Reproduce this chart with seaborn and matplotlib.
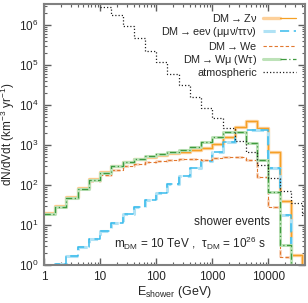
import numpy as np
import matplotlib
matplotlib.use("Agg")
import matplotlib.pyplot as plt
import seaborn as sns
from matplotlib.legend_handler import HandlerTuple
from matplotlib.ticker import NullFormatter

sns.set_style("ticks")
plt.rcParams["font.family"] = ["Liberation Sans", "DejaVu Sans"]
plt.rcParams["mathtext.fontset"] = "custom"
plt.rcParams["mathtext.rm"] = "Liberation Sans"
plt.rcParams["mathtext.it"] = "Liberation Sans:italic"
plt.rcParams["mathtext.bf"] = "Liberation Sans:bold"

# bin grid: 5 bins per decade, E_shower in GeV
edges = np.logspace(0, 4.8, 25)

# dN/dVdt (km^-3 yr^-1) per bin, bins starting at 1 GeV
znu = [20, 30, 50, 85, 140, 210, 300, 370, 440, 500, 560, 620, 680, 740,
       830, 1040, 1620, 2770, 4000, 2650, 650, 40, 1.8, 0.01]
eenu = [0.7, 1.08, 1.7, 2.8, 4.5, 7.2, 11.2, 19, 29, 43, 62, 105, 172, 260,
        400, 660, 1150, 2150, 2400, 2300, 260, 18, 0.3, 0.01]
we = [19, 28, 47, 78, 125, 180, 240, 300, 340, 370, 390, 420, 450, 440,
      420, 460, 490, 510, 420, 160, 28, 1.6, 0.3, 0.01]
wmu = [19, 28, 48, 80, 135, 200, 290, 370, 450, 520, 600, 660, 750, 910,
       1200, 1600, 2100, 2150, 1100, 420, 65, 3.2, 0.3, 0.01]
# atmospheric background, bins starting at 10 GeV
atm = [2.75e6, 1.78e6, 9.1e5, 4.7e5, 2.2e5, 1.2e5, 6e4, 3.2e4, 1.6e4, 8.4e3,
       4.7e3, 2.6e3, 1.26e3, 650, 320, 150, 72, 35, 18]
atm_start = 5

arrow = r"$\rightarrow$"
labels = ["DM" + arrow + "Z\u03bd",
          "DM" + arrow + "ee\u03bd (\u03bc\u03bc\u03bd/\u03c4\u03c4\u03bd)",
          "DM" + arrow + "We",
          "DM" + arrow + "W\u03bc (W\u03c4)",
          "atmospheric"]


def steps(vals, start=0):
    x = edges[start:start + len(vals) + 1]
    y = list(vals) + [vals[-1]]
    return x, y


fig = plt.figure(figsize=(3.08, 3.03), dpi=100)
ax = fig.add_axes([0.143, 0.125, 0.847, 0.862])

handles = []

x, y = steps(znu)
sns.lineplot(x=x, y=y, ax=ax, drawstyle="steps-post", color="#fdd09a", lw=2.4, sort=False)
sns.lineplot(x=x, y=y, ax=ax, drawstyle="steps-post", color="#f5a025", lw=0.9, sort=False)
handles.append((ax.lines[-2], ax.lines[-1]))

x, y = steps(eenu)
sns.lineplot(x=x, y=y, ax=ax, drawstyle="steps-post", color="#b0e2f5", lw=2.2, sort=False,
             dashes=False, linestyle=(0, (4, 2)))
sns.lineplot(x=x, y=y, ax=ax, drawstyle="steps-post", color="#38bbec", lw=1.1, sort=False,
             dashes=False, linestyle=(0, (6, 3)))
handles.append((ax.lines[-2], ax.lines[-1]))

x, y = steps(we)
sns.lineplot(x=x, y=y, ax=ax, drawstyle="steps-post", color="#f7cfb2", lw=1.8, sort=False,
             dashes=False, linestyle=(0, (3, 2)))
sns.lineplot(x=x, y=y, ax=ax, drawstyle="steps-post", color="#e2782f", lw=0.8, sort=False,
             dashes=False, linestyle=(0, (3, 2)))
handles.append((ax.lines[-1],))

x, y = steps(wmu)
sns.lineplot(x=x, y=y, ax=ax, drawstyle="steps-post", color="#bde2b8", lw=2.2, sort=False)
sns.lineplot(x=x, y=y, ax=ax, drawstyle="steps-post", color="#3f9a3f", lw=0.9, sort=False,
             dashes=False, linestyle=(0, (5, 2, 1, 2)))
handles.append((ax.lines[-2], ax.lines[-1]))

x, y = steps(atm, atm_start)
sns.lineplot(x=x, y=y, ax=ax, drawstyle="steps-post", color="#222222", lw=0.9, sort=False,
             dashes=False, linestyle=(0, (1, 1.6)))
handles.append((ax.lines[-1],))

ax.set_xscale("log")
ax.set_yscale("log")
ax.set_xlim(1, 4.5e4)
ax.set_ylim(1, 3.3e6)
ax.set_xticks([1, 10, 100, 1000, 10000])
ax.set_xticklabels(["1", "10", "100", "1000", "10000"])
ax.xaxis.set_minor_formatter(NullFormatter())
ax.yaxis.set_minor_formatter(NullFormatter())

for s in ax.spines.values():
    s.set_color("#808080")
    s.set_linewidth(1.5)
ax.tick_params(which="both", direction="in", top=True, right=True,
               color="#606060", labelsize=8.5, pad=4)
ax.tick_params(which="major", length=5, width=1)
ax.tick_params(which="minor", length=2.5, width=0.8)

ax.set_xlabel(r"E$_{\rm shower}$ (GeV)", fontsize=9, labelpad=1)
ax.set_ylabel(r"dN/dVdt (km$^{-3}$ yr$^{-1}$)", fontsize=8.5, labelpad=1)

leg = ax.legend(handles, labels, handler_map={tuple: HandlerTuple(ndivide=None, pad=0)},
                loc="upper right", bbox_to_anchor=(0.99, 0.995), frameon=False,
                markerfirst=False, fontsize=7.8, handlelength=3.0, labelspacing=0.1,
                handletextpad=0.6, borderaxespad=0.2)

ax.text(0.72, 0.155, "shower events", transform=ax.transAxes, ha="center",
        fontsize=8.5)
ax.text(0.56, 0.065, "m$_{\\rm DM}$ = 10 TeV ,  \u03c4$_{\\rm DM}$ = 10$^{26}$ s",
        transform=ax.transAxes, ha="center", fontsize=8.5)

fig.savefig("out.png", dpi=100)
